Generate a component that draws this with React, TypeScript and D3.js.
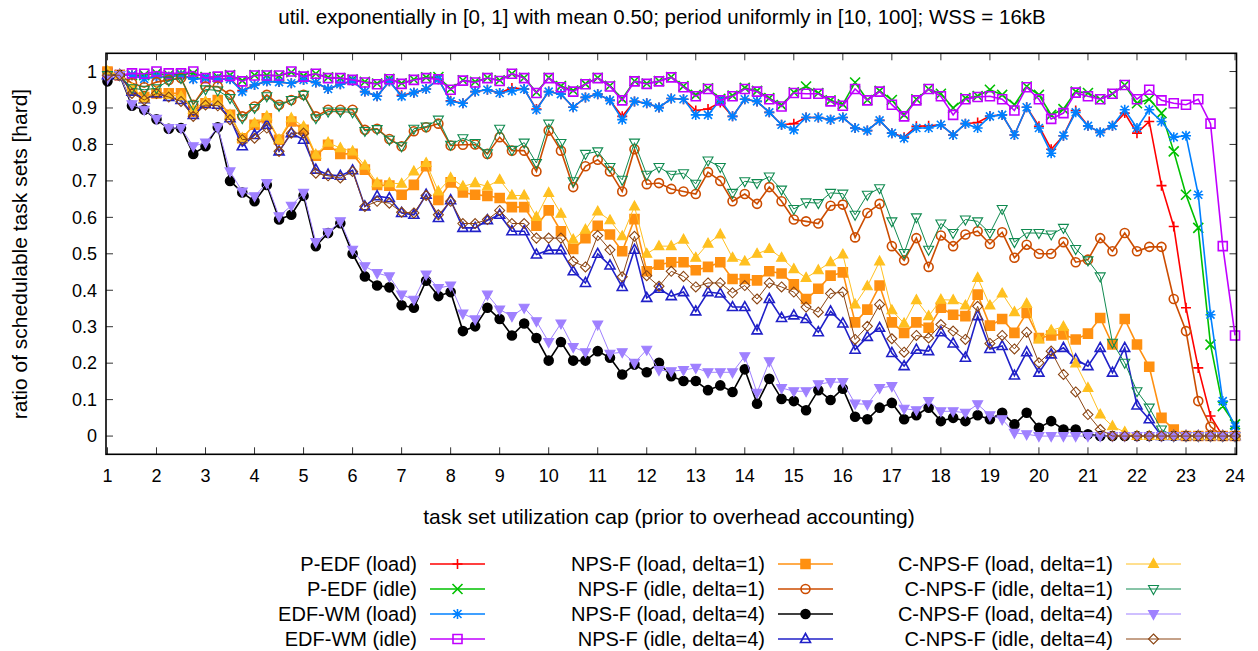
import * as d3 from "d3";
import React from "react";

// sampled utilization caps: 1, 1.25, ..., 24
const utilCaps: number[] = d3.range(1, 24.0001, 0.25);
const yTicks: number[] = d3.range(0, 1.0001, 0.1);
const xTicks: number[] = d3.range(1, 25, 1);

const pEdfLoad = [
  0.99, 0.99, 0.99, 0.982, 0.986, 0.986, 0.99, 0.98, 0.982, 0.979, 0.98, 0.948, 0.963, 0.973, 0.971, 0.968,
  0.977, 0.97, 0.952, 0.965, 0.974, 0.945, 0.932, 0.973, 0.935, 0.942, 0.952, 0.979, 0.92, 0.913, 0.945,
  0.95, 0.941, 0.955, 0.952, 0.897, 0.945, 0.938, 0.902, 0.929, 0.938, 0.921, 0.877, 0.918, 0.913, 0.901, 0.926,
  0.924, 0.893, 0.897, 0.915, 0.877, 0.924, 0.918, 0.888, 0.854, 0.857, 0.874, 0.874, 0.868, 0.874, 0.845,
  0.838, 0.866, 0.831, 0.82, 0.85, 0.851, 0.854, 0.826, 0.857, 0.86, 0.878, 0.881, 0.826, 0.902, 0.85, 0.787,
  0.824, 0.893, 0.851, 0.833, 0.851, 0.886, 0.831, 0.863, 0.687, 0.575, 0.352, 0.187, 0.055, 0, 0,
];
const pEdfIdle = [
  0.995, 0.99, 0.99, 0.99, 0.995, 0.99, 0.993, 0.995, 0.985, 0.985, 0.99, 0.975, 0.99, 0.99, 0.988, 0.998,
  0.988, 0.994, 0.984, 0.982, 0.978, 0.972, 0.967, 0.98, 0.968, 0.978, 0.984, 0.985, 0.952, 0.976, 0.972,
  0.983, 0.976, 0.994, 0.983, 0.943, 0.983, 0.96, 0.948, 0.966, 0.983, 0.961, 0.925, 0.974, 0.967, 0.974, 0.985,
  0.96, 0.936, 0.954, 0.925, 0.934, 0.955, 0.947, 0.927, 0.908, 0.943, 0.959, 0.941, 0.921, 0.91, 0.97,
  0.922, 0.947, 0.922, 0.881, 0.924, 0.952, 0.939, 0.9, 0.927, 0.933, 0.95, 0.936, 0.909, 0.959, 0.936, 0.881,
  0.897, 0.945, 0.941, 0.924, 0.939, 0.963, 0.913, 0.924, 0.886, 0.781, 0.662, 0.571, 0.251, 0.082, 0.032,
];
const edfWmLoad = [
  0.99, 0.99, 0.99, 0.98, 0.986, 0.986, 0.99, 0.979, 0.982, 0.979, 0.979, 0.945, 0.963, 0.973, 0.971, 0.968,
  0.977, 0.97, 0.952, 0.965, 0.974, 0.945, 0.932, 0.973, 0.932, 0.942, 0.952, 0.979, 0.918, 0.913, 0.945,
  0.95, 0.941, 0.947, 0.952, 0.895, 0.945, 0.938, 0.902, 0.929, 0.938, 0.921, 0.868, 0.918, 0.913, 0.901, 0.926,
  0.924, 0.881, 0.881, 0.922, 0.877, 0.924, 0.918, 0.888, 0.854, 0.84, 0.874, 0.874, 0.868, 0.874, 0.845,
  0.838, 0.866, 0.831, 0.817, 0.845, 0.845, 0.854, 0.826, 0.857, 0.845, 0.877, 0.881, 0.826, 0.902, 0.845, 0.776,
  0.824, 0.888, 0.851, 0.833, 0.851, 0.895, 0.845, 0.895, 0.863, 0.82, 0.824, 0.662, 0.333, 0.096, 0.027,
];
const edfWmIdle = [
  0.997, 0.99, 0.995, 0.994, 1.0, 0.995, 0.995, 1.0, 0.982, 0.986, 0.988, 0.973, 0.989, 0.989, 0.989, 1.0,
  0.986, 0.994, 0.982, 0.982, 0.977, 0.97, 0.965, 0.979, 0.966, 0.977, 0.982, 0.979, 0.95, 0.975, 0.97,
  0.982, 0.974, 0.994, 0.982, 0.941, 0.982, 0.957, 0.945, 0.965, 0.982, 0.959, 0.921, 0.973, 0.966, 0.973, 0.984,
  0.957, 0.932, 0.952, 0.921, 0.932, 0.952, 0.945, 0.924, 0.904, 0.941, 0.939, 0.939, 0.918, 0.906, 0.952,
  0.921, 0.945, 0.909, 0.877, 0.921, 0.952, 0.932, 0.881, 0.924, 0.93, 0.932, 0.924, 0.893, 0.957, 0.924, 0.87,
  0.886, 0.942, 0.932, 0.924, 0.939, 0.963, 0.924, 0.95, 0.921, 0.913, 0.909, 0.924, 0.857, 0.521, 0.276,
];
const npsfLoad1 = [
  1.0, 0.99, 0.95, 0.93, 0.94, 0.94, 0.94, 0.89, 0.913, 0.922, 0.881, 0.817, 0.854, 0.872, 0.813, 0.863,
  0.84, 0.769, 0.799, 0.774, 0.774, 0.731, 0.689, 0.687, 0.662, 0.689, 0.74, 0.648, 0.696, 0.668, 0.662,
  0.659, 0.653, 0.628, 0.628, 0.577, 0.619, 0.562, 0.513, 0.543, 0.577, 0.553, 0.507, 0.595, 0.452, 0.47, 0.477,
  0.477, 0.455, 0.464, 0.477, 0.431, 0.431, 0.427, 0.452, 0.446, 0.416, 0.376, 0.404, 0.44, 0.449, 0.312,
  0.347, 0.413, 0.312, 0.283, 0.312, 0.297, 0.352, 0.333, 0.329, 0.388, 0.303, 0.321, 0.283, 0.338, 0.269, 0.276,
  0.279, 0.265, 0.281, 0.324, 0.251, 0.321, 0.251, 0.19, 0.05, 0.018, 0, 0, 0, 0, 0,
];
const npsfIdle1 = [
  0.99, 0.99, 0.968, 0.957, 0.971, 0.977, 0.982, 0.909, 0.959, 0.959, 0.936, 0.877, 0.904, 0.936, 0.909, 0.922,
  0.936, 0.877, 0.895, 0.895, 0.895, 0.84, 0.843, 0.815, 0.795, 0.836, 0.847, 0.857, 0.797, 0.799, 0.8,
  0.774, 0.82, 0.783, 0.783, 0.726, 0.838, 0.783, 0.683, 0.74, 0.758, 0.726, 0.671, 0.787, 0.691, 0.694, 0.678,
  0.671, 0.664, 0.724, 0.7, 0.644, 0.664, 0.637, 0.683, 0.644, 0.594, 0.589, 0.583, 0.632, 0.635, 0.545,
  0.612, 0.637, 0.521, 0.482, 0.543, 0.464, 0.55, 0.521, 0.553, 0.562, 0.527, 0.559, 0.489, 0.525, 0.5, 0.5,
  0.532, 0.477, 0.484, 0.543, 0.507, 0.557, 0.507, 0.519, 0.519, 0.376, 0.288, 0.096, 0.026, 0, 0,
];
const npsfLoad4 = [
  0.973, 0.99, 0.906, 0.895, 0.869, 0.843, 0.845, 0.774, 0.795, 0.847, 0.7, 0.668, 0.644, 0.689, 0.594, 0.607,
  0.659, 0.521, 0.557, 0.584, 0.5, 0.438, 0.413, 0.408, 0.359, 0.352, 0.426, 0.384, 0.395, 0.288, 0.301,
  0.352, 0.321, 0.276, 0.309, 0.269, 0.207, 0.258, 0.207, 0.207, 0.233, 0.215, 0.169, 0.196, 0.175, 0.201, 0.164,
  0.151, 0.151, 0.126, 0.139, 0.121, 0.183, 0.089, 0.157, 0.102, 0.096, 0.071, 0.126, 0.099, 0.13, 0.053,
  0.046, 0.078, 0.091, 0.046, 0.057, 0.078, 0.041, 0.05, 0.041, 0.057, 0.046, 0.064, 0.032, 0.064, 0.023, 0.041,
  0.018, 0.018, 0.005, 0, 0, 0, 0, 0, 0, 0, 0, 0, 0, 0, 0,
];
const npsfIdle4 = [
  0.99, 0.99, 0.945, 0.924, 0.94, 0.93, 0.922, 0.881, 0.911, 0.909, 0.872, 0.795, 0.826, 0.854, 0.781, 0.831,
  0.813, 0.731, 0.717, 0.714, 0.729, 0.63, 0.658, 0.653, 0.612, 0.607, 0.662, 0.598, 0.647, 0.571, 0.571,
  0.592, 0.607, 0.562, 0.562, 0.498, 0.51, 0.51, 0.452, 0.42, 0.5, 0.468, 0.409, 0.511, 0.379, 0.404, 0.384,
  0.395, 0.342, 0.395, 0.391, 0.354, 0.354, 0.29, 0.376, 0.324, 0.331, 0.321, 0.285, 0.342, 0.309, 0.237,
  0.272, 0.297, 0.228, 0.192, 0.237, 0.233, 0.285, 0.254, 0.215, 0.329, 0.239, 0.247, 0.166, 0.23, 0.174, 0.224,
  0.242, 0.21, 0.192, 0.242, 0.174, 0.242, 0.084, 0.046, 0, 0, 0, 0, 0, 0, 0,
];
const cnpsfLoad1 = [
  1.0, 0.99, 0.954, 0.926, 0.945, 0.936, 0.932, 0.895, 0.918, 0.918, 0.881, 0.817, 0.858, 0.877, 0.813, 0.872,
  0.849, 0.772, 0.805, 0.79, 0.781, 0.742, 0.694, 0.694, 0.692, 0.726, 0.749, 0.671, 0.708, 0.685, 0.694,
  0.685, 0.703, 0.66, 0.66, 0.601, 0.667, 0.61, 0.539, 0.566, 0.616, 0.592, 0.548, 0.63, 0.5, 0.521, 0.521,
  0.539, 0.489, 0.528, 0.553, 0.489, 0.479, 0.5, 0.513, 0.489, 0.458, 0.434, 0.455, 0.477, 0.498, 0.361,
  0.411, 0.479, 0.345, 0.309, 0.373, 0.329, 0.374, 0.373, 0.358, 0.434, 0.358, 0.391, 0.34, 0.363, 0.265, 0.29,
  0.3, 0.199, 0.132, 0.059, 0.027, 0.011, 0, 0, 0, 0, 0, 0, 0, 0, 0,
];
const cnpsfIdle1 = [
  0.99, 0.99, 0.954, 0.95, 0.954, 0.975, 0.982, 0.909, 0.951, 0.948, 0.927, 0.872, 0.9, 0.932, 0.906, 0.922,
  0.936, 0.872, 0.89, 0.89, 0.888, 0.837, 0.842, 0.813, 0.795, 0.843, 0.849, 0.868, 0.799, 0.817, 0.804,
  0.776, 0.843, 0.785, 0.805, 0.749, 0.857, 0.804, 0.699, 0.774, 0.781, 0.738, 0.703, 0.805, 0.717, 0.738, 0.717,
  0.721, 0.692, 0.756, 0.738, 0.667, 0.699, 0.694, 0.712, 0.676, 0.623, 0.641, 0.639, 0.667, 0.665, 0.607,
  0.662, 0.68, 0.589, 0.502, 0.6, 0.511, 0.583, 0.557, 0.594, 0.589, 0.557, 0.623, 0.532, 0.557, 0.557, 0.553,
  0.571, 0.513, 0.482, 0.438, 0.256, 0.201, 0.123, 0.078, 0.018, 0, 0, 0, 0, 0, 0,
];
const cnpsfLoad4 = [
  0.98, 0.99, 0.91, 0.895, 0.87, 0.845, 0.845, 0.795, 0.805, 0.847, 0.726, 0.671, 0.658, 0.694, 0.603, 0.632,
  0.667, 0.532, 0.559, 0.589, 0.511, 0.466, 0.447, 0.438, 0.388, 0.374, 0.443, 0.406, 0.413, 0.336, 0.32,
  0.388, 0.347, 0.329, 0.352, 0.315, 0.258, 0.309, 0.244, 0.23, 0.306, 0.226, 0.23, 0.201, 0.237, 0.181, 0.178,
  0.181, 0.187, 0.175, 0.175, 0.175, 0.219, 0.119, 0.205, 0.132, 0.123, 0.123, 0.142, 0.148, 0.148, 0.089,
  0.087, 0.132, 0.137, 0.075, 0.071, 0.096, 0.068, 0.068, 0.064, 0.087, 0.057, 0.046, 0.009, 0.005, 0, 0,
  0, 0, 0, 0, 0, 0, 0, 0, 0, 0, 0, 0, 0, 0, 0,
];
const cnpsfIdle4 = [
  0.99, 0.99, 0.94, 0.922, 0.94, 0.93, 0.918, 0.877, 0.908, 0.906, 0.868, 0.813, 0.817, 0.845, 0.781, 0.831,
  0.831, 0.721, 0.714, 0.708, 0.726, 0.63, 0.644, 0.639, 0.614, 0.612, 0.66, 0.607, 0.644, 0.583, 0.583,
  0.594, 0.619, 0.583, 0.583, 0.543, 0.543, 0.543, 0.479, 0.464, 0.55, 0.511, 0.437, 0.548, 0.44, 0.411, 0.452,
  0.438, 0.409, 0.42, 0.42, 0.393, 0.413, 0.376, 0.42, 0.409, 0.395, 0.354, 0.34, 0.391, 0.395, 0.265,
  0.301, 0.361, 0.267, 0.23, 0.276, 0.269, 0.306, 0.288, 0.265, 0.356, 0.254, 0.276, 0.239, 0.285, 0.201, 0.233,
  0.169, 0.121, 0.059, 0.018, 0, 0, 0, 0, 0, 0, 0, 0, 0, 0, 0,
];

interface Series {
  name: string;
  color: string;
  marker: string;
  lw: number;
  values: number[];
}

const series: Series[] = [
  { name: "P-EDF (load)", color: "#ff0000", marker: "plus", lw: 1.6, values: pEdfLoad },
  { name: "P-EDF (idle)", color: "#00c000", marker: "cross", lw: 1.6, values: pEdfIdle },
  { name: "EDF-WM (load)", color: "#0080ff", marker: "star", lw: 1.6, values: edfWmLoad },
  { name: "EDF-WM (idle)", color: "#c000ff", marker: "square", lw: 1.6, values: edfWmIdle },
  { name: "NPS-F (load, delta=1)", color: "#ff9010", marker: "squareFilled", lw: 1.6, values: npsfLoad1 },
  { name: "NPS-F (idle, delta=1)", color: "#cc4c00", marker: "circle", lw: 1.6, values: npsfIdle1 },
  { name: "NPS-F (load, delta=4)", color: "#000000", marker: "circleFilled", lw: 1.6, values: npsfLoad4 },
  { name: "NPS-F (idle, delta=4)", color: "#2020c8", marker: "triUp", lw: 1.6, values: npsfIdle4 },
  { name: "C-NPS-F (load, delta=1)", color: "#ffc020", marker: "triUpFilled", lw: 1, values: cnpsfLoad1 },
  { name: "C-NPS-F (idle, delta=1)", color: "#108a50", marker: "triDown", lw: 1, values: cnpsfIdle1 },
  { name: "C-NPS-F (load, delta=4)", color: "#9f80ff", marker: "triDownFilled", lw: 1, values: cnpsfLoad4 },
  { name: "C-NPS-F (idle, delta=4)", color: "#8b4513", marker: "diamond", lw: 1, values: cnpsfIdle4 },
];

const W = 1258;
const H = 651;
const FONT = "'Liberation Sans', Arial, Helvetica, sans-serif";

function markerPath(type: string, x: number, y: number): string {
  const s = 5;
  switch (type) {
    case "plus":
      return `M${x - s},${y}H${x + s}M${x},${y - s}V${y + s}`;
    case "cross":
      return `M${x - s},${y - s}L${x + s},${y + s}M${x - s},${y + s}L${x + s},${y - s}`;
    case "star":
      return `M${x - s},${y}H${x + s}M${x},${y - s}V${y + s}M${x - 4},${y - 4}L${x + 4},${y + 4}M${x - 4},${y + 4}L${x + 4},${y - 4}`;
    case "square":
    case "squareFilled":
      return `M${x - 4.5},${y - 4.5}h9v9h-9Z`;
    case "circle":
    case "circleFilled":
      return `M${x - 4.5},${y}a4.5,4.5 0 1,0 9,0a4.5,4.5 0 1,0 -9,0Z`;
    case "triUp":
    case "triUpFilled":
      return `M${x},${y - 5.5}L${x + 5},${y + 3.5}L${x - 5},${y + 3.5}Z`;
    case "triDown":
    case "triDownFilled":
      return `M${x},${y + 5.5}L${x + 5},${y - 3.5}L${x - 5},${y - 3.5}Z`;
    case "diamond":
      return `M${x},${y - 5}L${x + 5},${y}L${x},${y + 5}L${x - 5},${y}Z`;
  }
  return "";
}

function isFilled(type: string) {
  return type.endsWith("Filled");
}

export default function App() {
  const x = d3.scaleLinear().domain([0.97, 24.03]).range([106, 1236.5]);
  const y = d3.scaleLinear().domain([-0.05, 1.05]).range([454.3, 53.3]);
  const line = d3
    .line<number>()
    .x((_, i) => x(utilCaps[i]))
    .y((d) => y(d));

  const left = x.range()[0];
  const right = x.range()[1];
  const top = y.range()[1];
  const bottom = y.range()[0];
  const tickLen = 7;

  const legendCols = [
    { textX: 417, lineX0: 430, lineX1: 485 },
    { textX: 765, lineX0: 778, lineX1: 833 },
    { textX: 1113, lineX0: 1126, lineX1: 1181 },
  ];
  const legendRows = [564, 589, 614, 639];

  return (
    <svg
      width={W}
      height={H}
      style={{ position: "absolute", left: 0, top: 0, background: "#fff" }}
      fontFamily={FONT}
    >
      <rect x={0} y={0} width={W} height={H} fill="#fff" />
      <text x={662} y={24} textAnchor="middle" fontSize={20.5}>
        util. exponentially in [0, 1] with mean 0.50; period uniformly in [10, 100]; WSS = 16kB
      </text>

      {/* ticks */}
      <g stroke="#333" strokeWidth={1}>
        {yTicks.map((t) => (
          <g key={"yt" + t}>
            <line x1={left} x2={left + tickLen} y1={y(t)} y2={y(t)} />
            <line x1={right} x2={right - tickLen} y1={y(t)} y2={y(t)} />
          </g>
        ))}
        {xTicks.map((t) => (
          <g key={"xt" + t}>
            <line x1={x(t)} x2={x(t)} y1={bottom} y2={bottom - tickLen} />
            <line x1={x(t)} x2={x(t)} y1={top} y2={top + tickLen} />
          </g>
        ))}
      </g>
      <g fontSize={18}>
        {yTicks.map((t) => (
          <text key={"yl" + t} x={97} y={y(t)} dy="0.35em" textAnchor="end">
            {d3.format("~g")(+t.toFixed(1))}
          </text>
        ))}
        {xTicks.map((t) => (
          <text key={"xl" + t} x={x(t)} y={482} textAnchor="middle">
            {t}
          </text>
        ))}
      </g>
      <text x={669} y={524} textAnchor="middle" fontSize={21}>
        task set utilization cap (prior to overhead accounting)
      </text>
      <text
        transform={`translate(27,254) rotate(-90)`}
        textAnchor="middle"
        fontSize={21}
      >
        ratio of schedulable task sets [hard]
      </text>

      {/* series */}
      {series.map((s) => (
        <g key={s.name}>
          <path d={line(s.values) || ""} fill="none" stroke={s.color} strokeWidth={s.lw} />
          <path
            d={s.values.map((v, i) => markerPath(s.marker, x(utilCaps[i]), y(v))).join("")}
            fill={isFilled(s.marker) ? s.color : "none"}
            stroke={s.color}
            strokeWidth={s.lw === 1 ? 1.1 : 1.6}
          />
        </g>
      ))}

      <rect
        x={left}
        y={top}
        width={right - left}
        height={bottom - top}
        fill="none"
        stroke="#000"
        strokeWidth={1.6}
      />

      {/* legend */}
      <g fontSize={20}>
        {series.map((s, k) => {
          const col = legendCols[Math.floor(k / 4)];
          const ry = legendRows[k % 4];
          const mx = (col.lineX0 + col.lineX1) / 2;
          return (
            <g key={"lg" + s.name}>
              <text x={col.textX} y={ry} dy="0.35em" textAnchor="end">
                {s.name}
              </text>
              <line x1={col.lineX0} x2={col.lineX1} y1={ry} y2={ry} stroke={s.color} strokeWidth={s.lw} />
              <path
                d={markerPath(s.marker, mx, ry)}
                fill={isFilled(s.marker) ? s.color : "none"}
                stroke={s.color}
                strokeWidth={s.lw === 1 ? 1.1 : 1.6}
              />
            </g>
          );
        })}
      </g>
    </svg>
  );
}
